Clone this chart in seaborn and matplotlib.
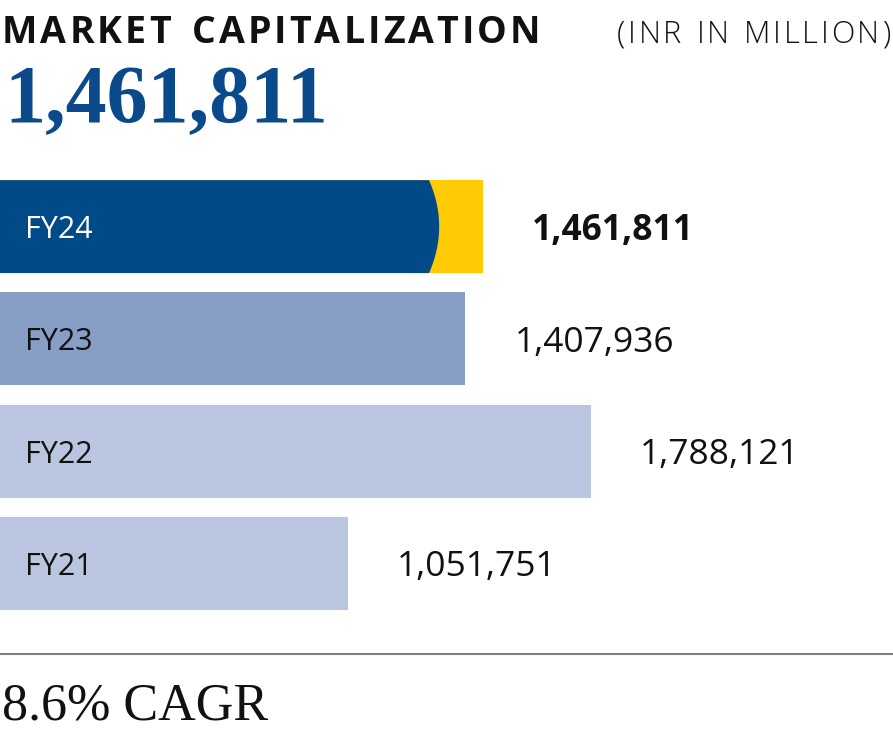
import numpy as np
import pandas as pd
import matplotlib
matplotlib.use("Agg")
import matplotlib.pyplot as plt
import seaborn as sns
from matplotlib.patches import Polygon
import matplotlib.transforms as mtransforms

# ---- data ----
years = ["FY24", "FY23", "FY22", "FY21"]
market_cap = [1461811, 1407936, 1788121, 1051751]
value_labels = ["1,461,811", "1,407,936", "1,788,121", "1,051,751"]
headline = "1,461,811"
cagr_text = "8.6% CAGR"
title = "MARKET CAPITALIZATION"
unit = "(INR IN MILLION)"

# ---- styles ----
bar_colors = ["#FFCB05", "#879FC5", "#BAC6E0", "#BAC6E0"]
dark_blue = "#004A87"
label_colors = ["white", "#111111", "#111111", "#111111"]
ACCENT_EDGE = 0.888   # blue part edge (fraction of bar)
ACCENT_BULGE = 0.021  # arc bulge (fraction of bar)

sns.set_theme(style="white")
plt.rcParams["font.family"] = ["Open Sans", "DejaVu Sans"]

W, H = 893, 737
fig = plt.figure(figsize=(W / 100, H / 100), dpi=100)
ax = fig.add_axes([0, 1 - 619.5 / H, 1, 449 / H])

df = pd.DataFrame({"year": years, "cap": market_cap})
sns.barplot(data=df, x="cap", y="year", hue="year", palette=bar_colors,
            orient="h", width=0.828, legend=False, ax=ax, saturation=1,
            linewidth=0, edgecolor="none")

xmax = max(market_cap) * W / 591.0
ax.set_xlim(0, xmax)
ax.set_ylim(3.5, -0.5)
ax.axis("off")

# dark-blue portion of the FY24 bar with curved edge
v = market_cap[0]
h = 0.828
ys = np.linspace(-h / 2, h / 2, 60)
xs = v * (ACCENT_EDGE + ACCENT_BULGE * (1 - (ys / (h / 2)) ** 2))
poly = np.vstack([[0, -h / 2]] + [[x, y] for x, y in zip(xs, ys)] + [[0, h / 2]])
ax.add_patch(Polygon(poly, closed=True, facecolor=dark_blue, edgecolor="none", zorder=3))

# labels
trans = mtransforms.blended_transform_factory(ax.transAxes, ax.transData)
for i, (yr, val, lab) in enumerate(zip(years, market_cap, value_labels)):
    ax.text(25 / W, i, yr, transform=trans, ha="left", va="center_baseline",
            fontsize=22, color=label_colors[i], zorder=5)
    ax.annotate(lab, xy=(val, i), xytext=(49, 0), textcoords="offset pixels",
                ha="left", va="center_baseline", fontsize=25.5, color="#111111",
                fontweight="bold" if i == 0 else "normal")

# text with letter spacing
renderer = fig.canvas.get_renderer()
def spaced_text(s, x0, x1, y, **kw):
    widths = []
    for ch in s:
        t = fig.text(0, 0, ch if ch != " " else "I", **kw)
        bb = t.get_window_extent(renderer)
        widths.append(bb.width if ch != " " else bb.width * 1.2)
        t.remove()
    nat = sum(widths)
    gap = max(0.0, (x1 - x0 - nat) / (len(s) - 1))
    x = x0
    for ch, w in zip(s, widths):
        if ch != " ":
            fig.text(x / W, 1 - y / H, ch, ha="left", va="baseline", **kw)
        x += w + gap

spaced_text(title, 2, 540, 43, fontsize=27, fontweight="bold", color="#111111")
spaced_text(unit, 617, 890, 43, fontsize=22, fontweight="light", color="#111111")

fig.text(4 / W, 1 - 122 / H, headline, ha="left", va="baseline",
         family=["Liberation Serif"], fontweight="bold", fontsize=59, color="#0B4A8A")

fig.add_artist(plt.Line2D([0, 1], [1 - 653.5 / H, 1 - 653.5 / H], color="#808080", lw=1.5))
fig.text(2 / W, 1 - 720 / H, cagr_text, ha="left", va="baseline",
         family=["Liberation Serif"], fontsize=37.5, color="#111111")

fig.savefig("out.png", dpi=100)
